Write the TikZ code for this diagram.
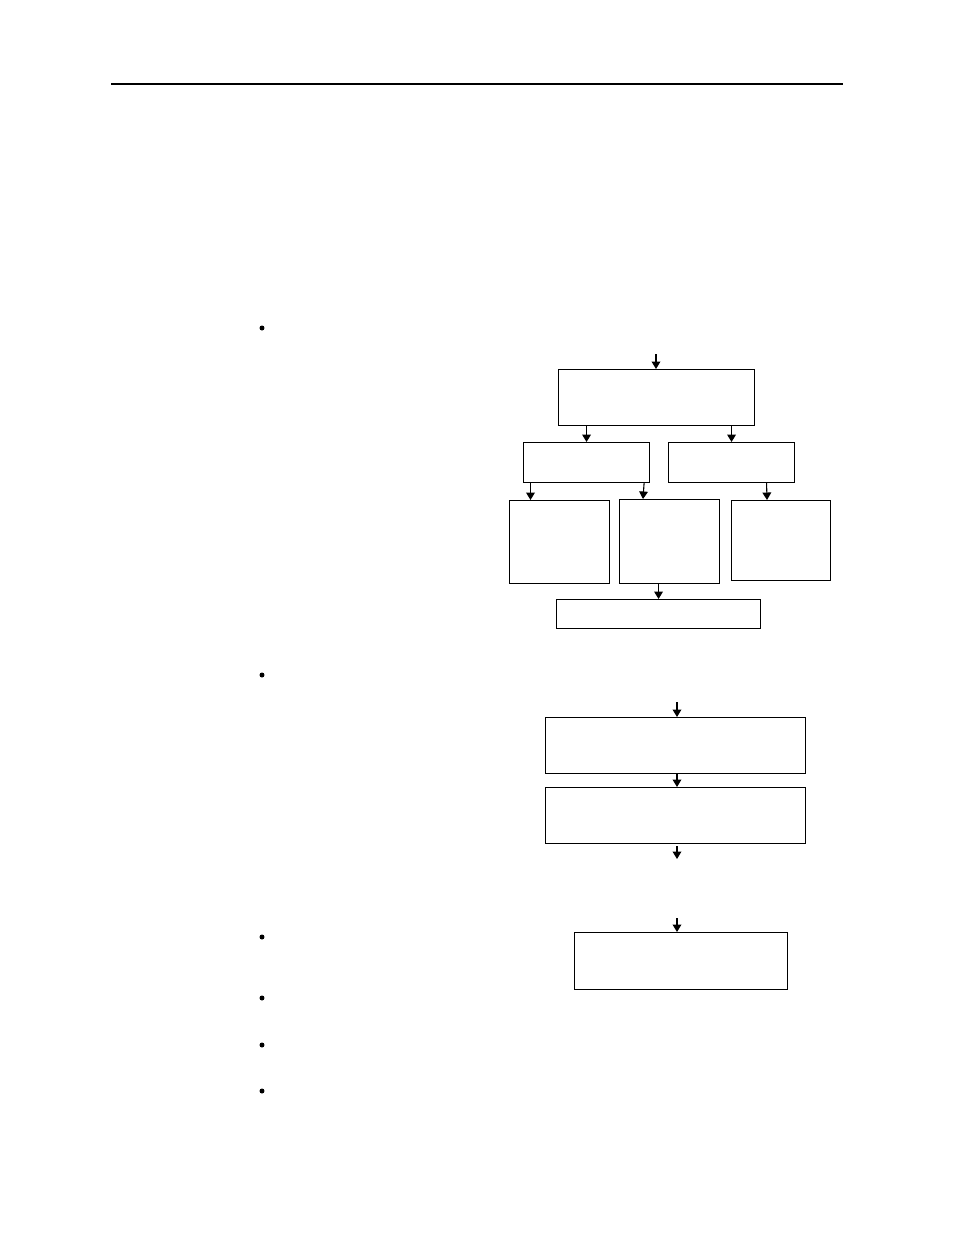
\documentclass[tikz,border=0pt]{standalone}
\usepackage{amsmath,amssymb}
\usepackage{tikz}
\usetikzlibrary{arrows.meta,calc}

\def\pxl{0.6415pt}

\begin{document}
\begin{tikzpicture}[x=\pxl,y=-\pxl,
  pbox/.style={draw, line width=0.7pt, inner sep=0pt, anchor=north west},
  arr/.style={line width=0.7pt, -{Triangle[width=5.6pt,length=4.8pt]}}]

\useasboundingbox (0,0) rectangle (954,1235);

% rule and bullets
\draw[line width=1.9pt] (111,84) -- (843,84);
        \foreach \y in {328,675,937,998,1045,1091}
                 \fill (262,\y) circle (1.6pt);

%first chart boxes
\node[pbox, minimum width=196*\pxl, minimum height=56*\pxl] (A) at (558,369) {};
\node[pbox, minimum width=126*\pxl, minimum height=40*\pxl] (B) at (523,442) {};
\node[pbox, minimum width=126*\pxl, minimum height=40*\pxl] (C) at (668,442) {};
\node[pbox, minimum width=100*\pxl, minimum height=83*\pxl] (D) at (509,500) {};
\node[pbox, minimum width=100*\pxl, minimum height=84*\pxl] (E) at (619,499) {};
\node[pbox, minimum width=99*\pxl, minimum height=80*\pxl] (F) at (731,500) {};
\node[pbox, minimum width=204*\pxl, minimum height=29*\pxl] (G) at (556,599) {};

%first chart arrows
\coordinate (inA) at (656,354);
\draw[arr] (inA) -- (inA |- A.north);
\draw[arr] (B.north |- A.south) -- (B.north);
\draw[arr] (C.north |- A.south) -- (C.north);
\draw[arr] ($(B.south west)+(7.5,0)$) -- ($(D.north west)+(21.5,0)$);
\draw[arr] ($(B.south east)+(-6,0)$) -- ($(E.north west)+(24,0)$);
\draw[arr] ($(C.south)+(35,0)$) -- ($(F.north)+(-14,0)$);
\draw[arr] (G.north |- E.south) -- (G.north);

%second chart
\node[pbox, minimum width=260*\pxl, minimum height=56*\pxl] (H) at (545,717) {};
\node[pbox, minimum width=260*\pxl, minimum height=56*\pxl] (I) at (545,787) {};
\coordinate (inH) at (677,702);
\coordinate (outI) at (677,859);
\draw[arr] (inH) -- (inH |- H.north);
\draw[arr] (inH |- H.south) -- (inH |- I.north);
\draw[arr] (outI |- I.south) ++(0,2) -- (outI);

%third chart
\node[pbox, minimum width=213*\pxl, minimum height=57*\pxl] (J) at (574,932) {};
\coordinate (inJ) at (677,918);
\draw[arr] (inJ) -- (inJ |- J.north);

\end{tikzpicture}
\end{document}
